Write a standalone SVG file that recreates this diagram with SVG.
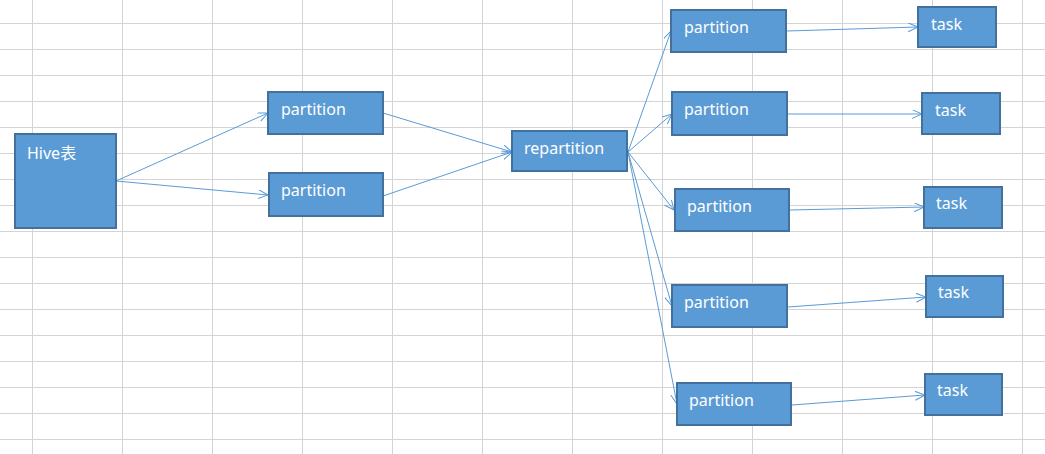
<svg xmlns="http://www.w3.org/2000/svg" width="1045" height="454" viewBox="0 0 1045 454">
<style>
.grid line{stroke:#d4d4d4;stroke-width:1}
.box{fill:#5b9bd5;stroke:#41719c;stroke-width:2}
.lbl{font-family:"Noto Sans","Noto Sans CJK SC",sans-serif;font-size:16px;fill:#ffffff}
.conn line{stroke:#5b9bd5;stroke-width:1;fill:none;marker-end:url(#arr)}
</style>
<defs>
<marker id="arr" markerUnits="userSpaceOnUse" markerWidth="12" markerHeight="10" refX="10" refY="4.5" orient="auto">
<path d="M0,0 L10,4.5 L0,9" fill="none" stroke="#5b9bd5" stroke-width="1"/>
</marker>
</defs>
<rect width="1045" height="454" fill="#ffffff"/>
<g class="grid">
<line x1="32.5" y1="0" x2="32.5" y2="454"/>
<line x1="122.5" y1="0" x2="122.5" y2="454"/>
<line x1="212.5" y1="0" x2="212.5" y2="454"/>
<line x1="302.5" y1="0" x2="302.5" y2="454"/>
<line x1="392.5" y1="0" x2="392.5" y2="454"/>
<line x1="482.5" y1="0" x2="482.5" y2="454"/>
<line x1="572.5" y1="0" x2="572.5" y2="454"/>
<line x1="662.5" y1="0" x2="662.5" y2="454"/>
<line x1="752.5" y1="0" x2="752.5" y2="454"/>
<line x1="842.5" y1="0" x2="842.5" y2="454"/>
<line x1="932.5" y1="0" x2="932.5" y2="454"/>
<line x1="1022.5" y1="0" x2="1022.5" y2="454"/>
<line x1="0" y1="23.5" x2="1045" y2="23.5"/>
<line x1="0" y1="49.5" x2="1045" y2="49.5"/>
<line x1="0" y1="75.5" x2="1045" y2="75.5"/>
<line x1="0" y1="101.5" x2="1045" y2="101.5"/>
<line x1="0" y1="127.5" x2="1045" y2="127.5"/>
<line x1="0" y1="153.5" x2="1045" y2="153.5"/>
<line x1="0" y1="179.5" x2="1045" y2="179.5"/>
<line x1="0" y1="205.5" x2="1045" y2="205.5"/>
<line x1="0" y1="231.5" x2="1045" y2="231.5"/>
<line x1="0" y1="257.5" x2="1045" y2="257.5"/>
<line x1="0" y1="283.5" x2="1045" y2="283.5"/>
<line x1="0" y1="309.5" x2="1045" y2="309.5"/>
<line x1="0" y1="335.5" x2="1045" y2="335.5"/>
<line x1="0" y1="361.5" x2="1045" y2="361.5"/>
<line x1="0" y1="387.5" x2="1045" y2="387.5"/>
<line x1="0" y1="413.5" x2="1045" y2="413.5"/>
<line x1="0" y1="439.5" x2="1045" y2="439.5"/>
</g>
<g id="connectors" class="conn">
<line x1="116" y1="181" x2="268" y2="113"/>
<line x1="116" y1="181" x2="268" y2="195"/>
<line x1="383" y1="113" x2="512" y2="152"/>
<line x1="383" y1="196" x2="512" y2="152"/>
<line x1="628" y1="152" x2="671" y2="31"/>
<line x1="628" y1="152" x2="672" y2="114"/>
<line x1="628" y1="152" x2="674" y2="210"/>
<line x1="628" y1="152" x2="672" y2="306"/>
<line x1="628" y1="152" x2="677" y2="404"/>
<line x1="787" y1="31" x2="918" y2="27"/>
<line x1="788" y1="114" x2="922" y2="114"/>
<line x1="790" y1="210" x2="924" y2="207"/>
<line x1="788" y1="307" x2="926" y2="297"/>
<line x1="792" y1="405" x2="925" y2="395"/>
</g>
<g id="hive"><rect class="box" x="15" y="134" width="101" height="94"/><text class="lbl" x="27" y="159">Hive表</text></g>
<g id="p1"><rect class="box" x="268" y="92" width="115" height="42"/><text class="lbl" x="281" y="115">partition</text></g>
<g id="p2"><rect class="box" x="269" y="173" width="114" height="43"/><text class="lbl" x="281" y="196">partition</text></g>
<g id="repartition"><rect class="box" x="512" y="131" width="115" height="40"/><text class="lbl" x="524" y="154">repartition</text></g>
<g id="rp1"><rect class="box" x="671" y="10" width="115" height="42"/><text class="lbl" x="684" y="33">partition</text></g>
<g id="rp2"><rect class="box" x="672" y="92" width="115" height="43"/><text class="lbl" x="684" y="115">partition</text></g>
<g id="rp3"><rect class="box" x="675" y="189" width="114" height="42"/><text class="lbl" x="687" y="212">partition</text></g>
<g id="rp4"><rect class="box" x="672" y="285" width="115" height="42"/><text class="lbl" x="684" y="308">partition</text></g>
<g id="rp5"><rect class="box" x="677" y="383" width="114" height="42"/><text class="lbl" x="689" y="406">partition</text></g>
<g id="t1"><rect class="box" x="918" y="7" width="78" height="40"/><text class="lbl" x="931" y="30">task</text></g>
<g id="t2"><rect class="box" x="922" y="93" width="78" height="41"/><text class="lbl" x="935" y="116">task</text></g>
<g id="t3"><rect class="box" x="924" y="187" width="78" height="41"/><text class="lbl" x="936" y="209">task</text></g>
<g id="t4"><rect class="box" x="926" y="276" width="77" height="41"/><text class="lbl" x="938" y="298">task</text></g>
<g id="t5"><rect class="box" x="925" y="374" width="77" height="41"/><text class="lbl" x="937" y="396">task</text></g>
</svg>
